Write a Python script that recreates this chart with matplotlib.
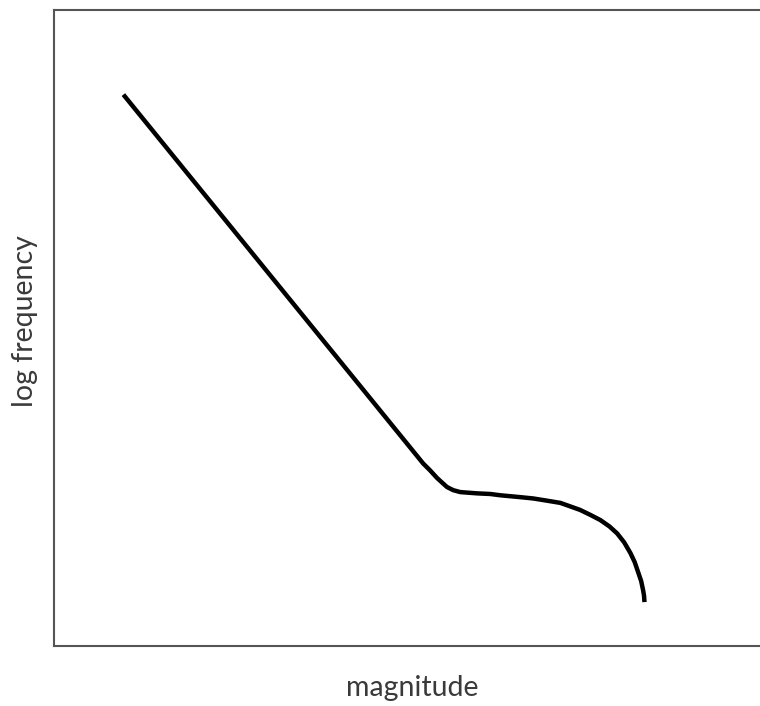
import matplotlib
matplotlib.use("Agg")
import matplotlib.pyplot as plt

# curve (arbitrary units)
magnitude = [0.99, 5.27, 5.37, 5.47, 5.61, 5.70, 5.80, 6.04, 6.23,
             6.37, 6.66, 6.84, 7.01, 7.23, 7.51, 7.66, 7.80, 7.93, 8.04,
             8.14, 8.23, 8.29, 8.343, 8.383, 8.410, 8.424, 8.430]
log_freq = [8.67, 2.87, 2.76, 2.64, 2.50, 2.45, 2.42, 2.40, 2.39,
            2.37, 2.34, 2.32, 2.29, 2.25, 2.14, 2.06, 1.98, 1.88, 1.77,
            1.63, 1.46, 1.32, 1.15, 1.02, 0.88, 0.79, 0.69]

plt.rcParams['font.family'] = ['Lato', 'DejaVu Sans']

fig = plt.figure(figsize=(7.6, 7.06), dpi=100)
ax = fig.add_axes([0.0711, 0.085, 0.94, 0.9008])

ax.plot(magnitude, log_freq, color='black', lw=3.2, solid_capstyle='butt',
        solid_joinstyle='round')

ax.set_xlim(0, 10.2)
ax.set_ylim(0, 10)
ax.set_xticks([])
ax.set_yticks([])
for s in ax.spines.values():
    s.set_color('#555555')
    s.set_linewidth(1.5)

fig.text(0.542, 0.025, "magnitude", ha='center', va='center',
         fontsize=20.5, color='#3a3a3a')
fig.text(0.033, 0.545, "log frequency", ha='center', va='center',
         rotation=90, fontsize=20.5, color='#3a3a3a')

fig.savefig("out.png", dpi=100)
